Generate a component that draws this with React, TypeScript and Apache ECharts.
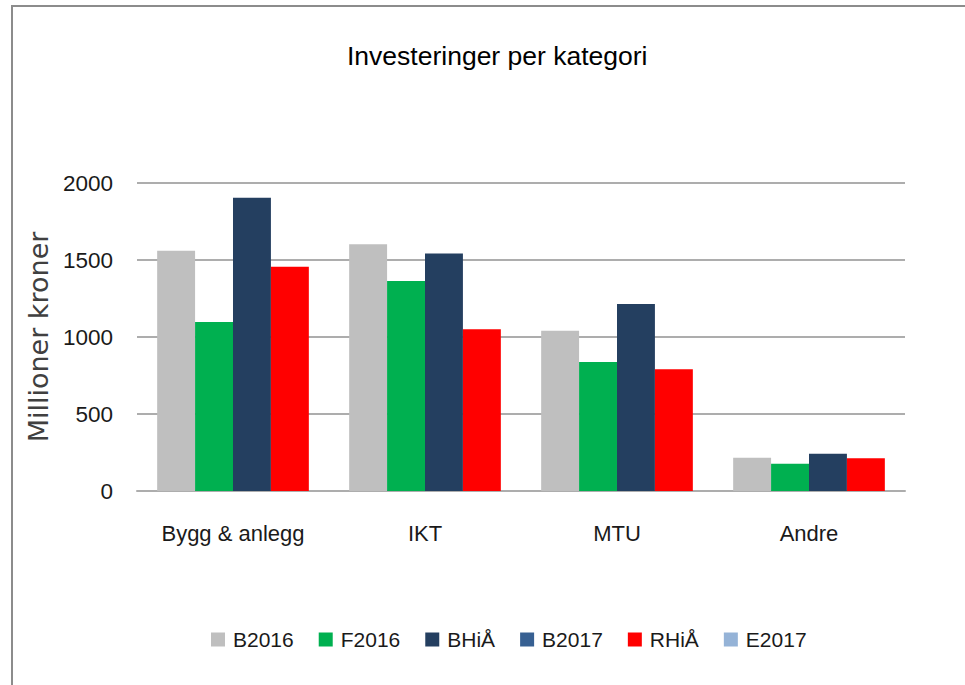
import React, { useEffect, useRef } from "react";
import * as echarts from "echarts";

const categories = ["Bygg & anlegg", "IKT", "MTU", "Andre"];
const b2016Values = [1560, 1602, 1041, 216];
const f2016Values = [1097, 1364, 838, 177];
const bhiaValues = [1905, 1543, 1214, 242];
const b2017Values: (number | null)[] = [];
const rhiaValues = [1456, 1050, 790, 212];
const e2017Values: (number | null)[] = [];
const yTicks = { min: 0, max: 2000, interval: 500 };

const seriesDefs = [
  { name: "B2016", data: b2016Values, color: "#BFBFBF", stack: "s1" },
  { name: "F2016", data: f2016Values, color: "#00B050", stack: "s2" },
  { name: "BHiÅ", data: bhiaValues, color: "#243F60", stack: "s3" },
  { name: "B2017", data: b2017Values, color: "#376092", stack: "s3" },
  { name: "RHiÅ", data: rhiaValues, color: "#FF0000", stack: "s4" },
  { name: "E2017", data: e2017Values, color: "#95B3D7", stack: "s4" },
];

export default function App() {
  const ref = useRef<HTMLDivElement>(null);
  useEffect(() => {
    if (!ref.current) return;
    const chart = echarts.init(ref.current, undefined, { renderer: "svg" });
    const font = "'Liberation Sans', sans-serif";
    chart.setOption({
      animation: false,
      backgroundColor: "#ffffff",
      graphic: [
        {
          type: "rect",
          shape: { x: 12, y: 6, width: 1000, height: 720 },
          style: { fill: "none", stroke: "#8C8C8C", lineWidth: 2 },
          silent: true,
        },
      ],
      title: {
        text: "Investeringer per kategori",
        left: 347,
        top: 42,
        padding: 0,
        textStyle: { fontFamily: font, fontSize: 26.5, fontWeight: "normal", color: "#000000" },
      },
      legend: {
        left: 206,
        top: 624,
        itemWidth: 14,
        itemHeight: 14,
        itemGap: 25,
        icon: "rect",
        textStyle: { fontFamily: font, fontSize: 21, color: "#1a1a1a", padding: [0, 0, 0, 3] },
        data: seriesDefs.map((s) => s.name),
      },
      grid: { left: 137, right: 60, top: 183, bottom: 194, containLabel: false },
      xAxis: {
        type: "category",
        data: categories,
        axisTick: { show: false },
        axisLine: { show: true, lineStyle: { color: "#ADADAD", width: 2 } },
        axisLabel: { interval: 0, margin: 31, fontFamily: font, fontSize: 22, color: "#1a1a1a" },
      },
      yAxis: {
        type: "value",
        min: yTicks.min,
        max: yTicks.max,
        interval: yTicks.interval,
        name: "Millioner kroner",
        nameLocation: "middle",
        nameGap: 72,
        nameTextStyle: { fontFamily: "'DejaVu Sans', sans-serif", fontSize: 27, color: "#404040" },
        axisLine: { show: false },
        axisTick: { show: false },
        axisLabel: {
          margin: 24,
          fontFamily: font,
          fontSize: 22.5,
          color: "#1a1a1a",
          formatter: (v: number) => String(v),
        },
        splitLine: { lineStyle: { color: "#ADADAD", width: 2 } },
      },
      series: seriesDefs.map((s) => ({
        type: "bar",
        name: s.name,
        data: s.data,
        stack: s.stack,
        barGap: "0%",
        barCategoryGap: "21%",
        itemStyle: { color: s.color },
      })),
    });
    return () => chart.dispose();
  }, []);
  return (
    <div
      ref={ref}
      style={{ position: "fixed", left: 0, top: 0, width: 965, height: 685 }}
    />
  );
}
